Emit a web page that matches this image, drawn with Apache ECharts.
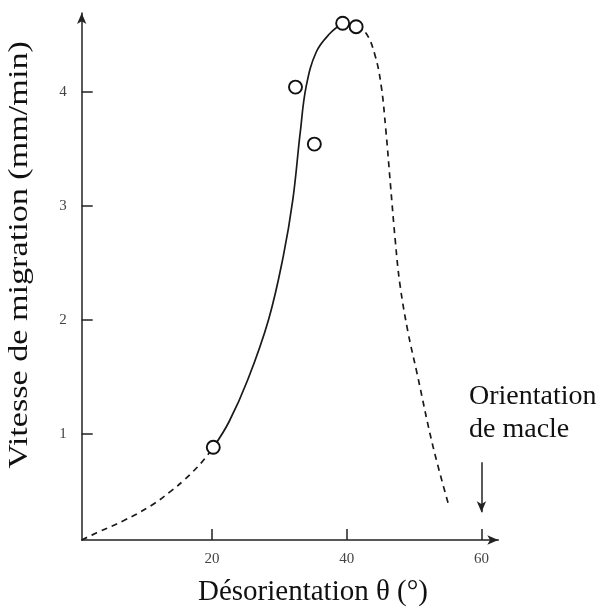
<!DOCTYPE html>
<html>
<head>
<meta charset="utf-8">
<script src="https://cdn.jsdelivr.net/npm/echarts@6/dist/echarts.min.js"></script>
<style>
html,body{margin:0;padding:0;background:#fff;}
#chart{width:604px;height:612px;}
</style>
</head>
<body>
<div id="chart"></div>
<script>
// Dashed low-angle branch (extrapolated)
var dashLeftX = [0.67, 2.9, 7.0, 11.0, 14.0, 16.0, 18.5, 20.2];
var dashLeftY = [0.067, 0.13, 0.24, 0.37, 0.50, 0.60, 0.75, 0.88];
// Solid measured branch
var solidX = [20.2, 22.5, 25.3, 28.4, 30.6, 32.0, 33.1, 34.0, 35.5, 37.5, 39.4];
var solidY = [0.88, 1.10, 1.47, 2.00, 2.56, 3.05, 3.64, 4.05, 4.35, 4.51, 4.60];
// Dashed high-angle branch (extrapolated)
var dashRightX = [41.4, 42.9, 44.2, 45.1, 45.8, 46.5, 47.2, 47.9, 49.1, 50.4, 52.8, 55.2];
var dashRightY = [4.57, 4.51, 4.32, 4.06, 3.67, 3.18, 2.70, 2.31, 1.89, 1.54, 0.89, 0.36];
// Measured points
var pointsX = [20.2, 32.4, 35.2, 39.4, 41.4];
var pointsY = [0.88, 4.04, 3.54, 4.60, 4.57];
// Tick labels
var xTicks = [20, 40, 60];
var yTicks = [1, 2, 3, 4];
// Twin orientation annotation
var twinX = 60;
var twinArrowY = [0.75, 0.31];
var twinText = 'Orientation\nde macle';
var yTitle = 'Vitesse de migration (mm/min)';
var xTitle = 'Désorientation θ (°)';

function zip(xs, ys){ return xs.map(function(x,i){ return [x, ys[i]]; }); }

var serif = '"Liberation Serif", "Times New Roman", serif';
var ink = '#1a1a1a';
var chart = echarts.init(document.getElementById('chart'), null, {renderer:'canvas'});
chart.setOption({
  backgroundColor: '#ffffff',
  animation: false,
  grid: {left: 81.7, right: 105.7, top: 13, bottom: 71.3, containLabel: false},
  xAxis: {
    type: 'value', min: 0.67, max: 62.5,
    splitLine: {show: false},
    axisLine: {show: true, onZero: false, symbol: ['none','arrow'], symbolSize: [7,11], lineStyle: {color: '#222', width: 1.5}},
    axisTick: {show: true, inside: true, length: 11, customValues: xTicks, lineStyle: {color: '#222', width: 1.5}},
    axisLabel: {customValues: xTicks, margin: 12, color: '#444', fontFamily: serif, fontSize: 15},
    name: xTitle, nameLocation: 'middle', nameGap: 38,
    nameTextStyle: {fontFamily: serif, fontSize: 29, color: '#111', padding: [0,0,0,46]}
  },
  yAxis: {
    type: 'value', min: 0.067, max: 4.69,
    splitLine: {show: false},
    axisLine: {show: true, onZero: false, symbol: ['none','arrow'], symbolSize: [7,11], lineStyle: {color: '#222', width: 1.5}},
    axisTick: {show: true, inside: true, length: 11, customValues: yTicks, lineStyle: {color: '#222', width: 1.5}},
    axisLabel: {customValues: yTicks, margin: 15, color: '#444', fontFamily: serif, fontSize: 15}
  },
  series: [
    {type: 'line', data: zip(dashLeftX, dashLeftY), smooth: 0.4, showSymbol: false,
     lineStyle: {color: ink, width: 1.7, type: [6,5]}, z: 2},
    {type: 'line', data: zip(solidX, solidY), smooth: 0.4, showSymbol: false,
     lineStyle: {color: ink, width: 1.7}, z: 2},
    {type: 'line', data: zip(dashRightX, dashRightY), smooth: 0.4, showSymbol: false,
     lineStyle: {color: ink, width: 1.7, type: [6,5]}, z: 2},
    {type: 'scatter', data: zip(pointsX, pointsY), symbol: 'circle', symbolSize: 13,
     itemStyle: {color: '#fff', borderColor: '#111', borderWidth: 1.9, opacity: 1}, z: 5},
    {type: 'line', data: [], silent: true,
     markLine: {
       silent: true, symbol: ['none','arrow'], symbolSize: [7,11],
       lineStyle: {color: '#222', width: 1.5, type: 'solid'},
       label: {show: false},
       data: [[{coord: [twinX, twinArrowY[0]]}, {coord: [twinX, twinArrowY[1]]}]]
     }}
  ],
  graphic: [
    {type: 'text', x: 20, y: 255, rotation: Math.PI / 2, scaleX: 1.22,
     style: {text: yTitle, font: '28px ' + serif, fill: '#111', textAlign: 'center', textVerticalAlign: 'middle'}},
    {type: 'text', left: 469, top: 380,
     style: {text: twinText, font: '28px ' + serif, fill: '#111', lineHeight: 33}}
  ]
});
</script>
</body>
</html>
